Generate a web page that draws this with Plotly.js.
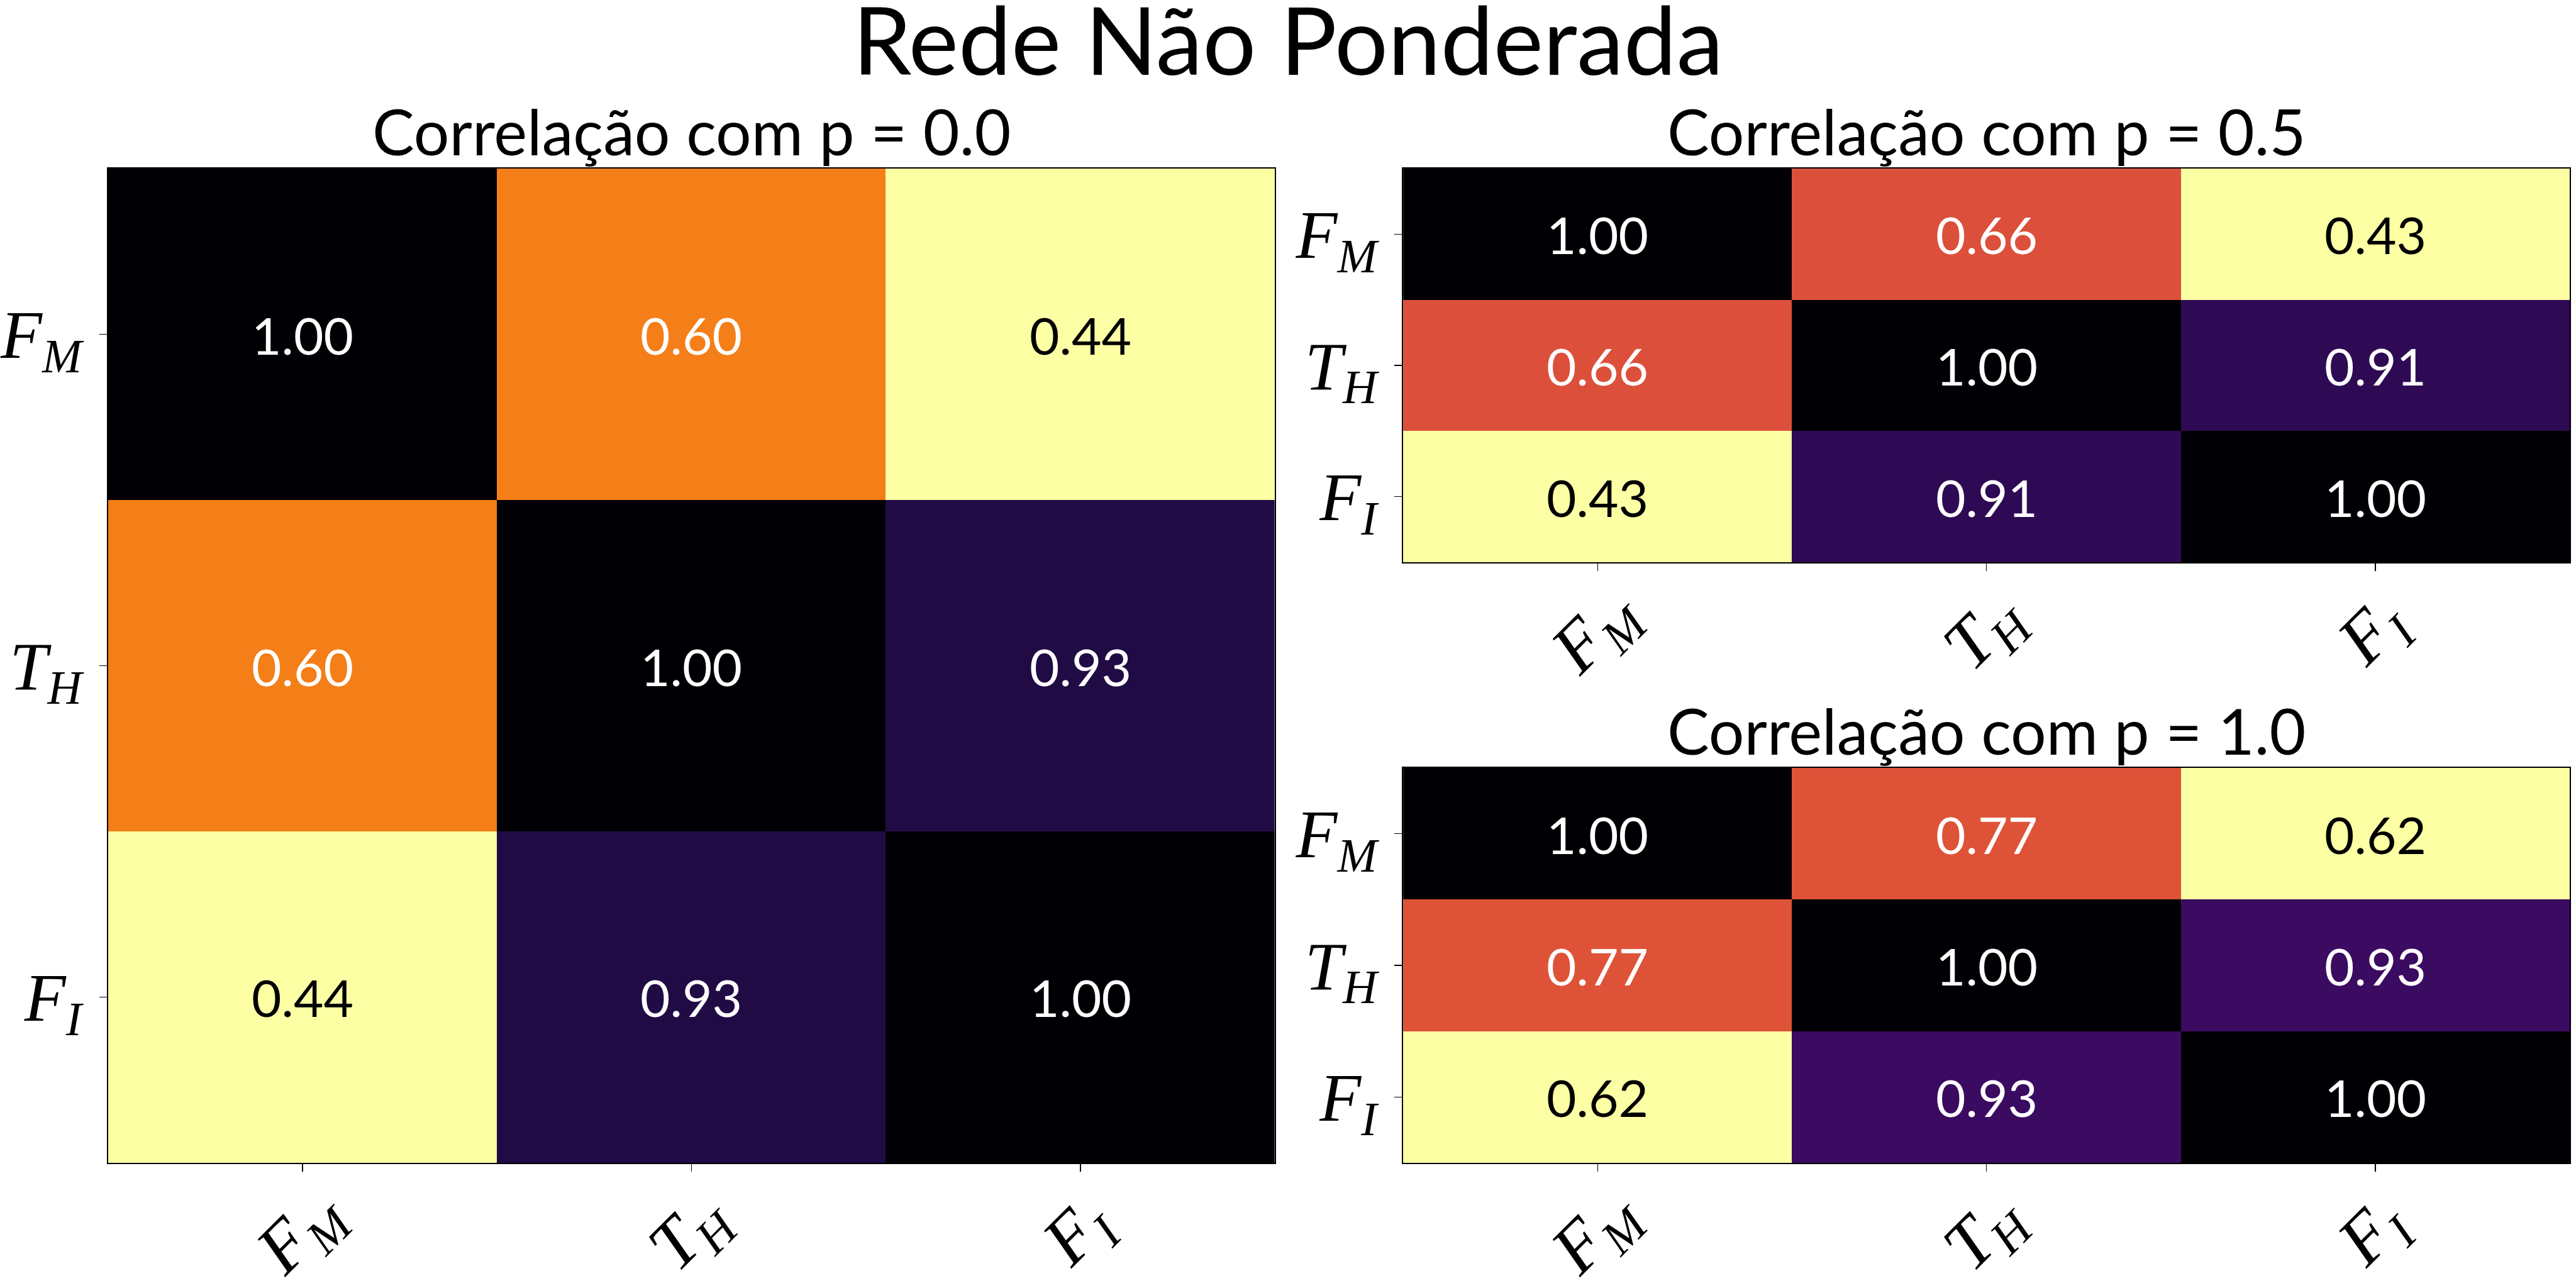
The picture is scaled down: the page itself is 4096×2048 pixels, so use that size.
<!DOCTYPE html>
<html>
<head>
<meta charset="utf-8">
<script src="https://cdn.plot.ly/plotly-3.0.1.min.js"></script>
<style>html,body{margin:0;padding:0;background:#fff}#chart{width:4096px;height:2048px}</style>
</head>
<body>
<div id="chart"></div>
<script>
// ---- data ----
const mainTitle = 'Rede Não Ponderada';
const categories = ['FM', 'TH', 'FI'];
const tickLabels = ['<i>F</i><sub><i>M</i></sub>', '<i>T</i><sub><i>H</i></sub>', '<i>F</i><sub><i>I</i></sub>'];
const subTitles = ['Correlação com p = 0.0', 'Correlação com p = 0.5', 'Correlação com p = 1.0'];
const corrP00 = [[1.00, 0.60, 0.44], [0.60, 1.00, 0.93], [0.44, 0.93, 1.00]];
const corrP05 = [[1.00, 0.66, 0.43], [0.66, 1.00, 0.91], [0.43, 0.91, 1.00]];
const corrP10 = [[1.00, 0.77, 0.62], [0.77, 1.00, 0.93], [0.62, 0.93, 1.00]];
// matplotlib "inferno" colormap (used reversed)
const infernoStops = ['#000004', '#160b39', '#420a68', '#6a176e', '#932667', '#bc3754',
                      '#dd513a', '#f37819', '#fca50a', '#f6d746', '#fcffa4'];

// ---- build ----
const inferno = infernoStops.map((c, i) => [i / (infernoStops.length - 1), c]);
const matrices = [corrP00, corrP05, corrP10];
const panels = [
  {xd: [0.0419, 0.4949], yd: [0.0972, 0.8691]},
  {xd: [0.5447, 0.9976], yd: [0.5635, 0.8691]},
  {xd: [0.5447, 0.9976], yd: [0.0972, 0.4038]}
];
const mathFont = 'Liberation Serif, DejaVu Serif, serif';
const sansFont = 'Lato, Open Sans, sans-serif';

const traces = [];
const annotations = [];
const layout = {
  width: 4096, height: 2048,
  margin: {l: 0, r: 0, t: 0, b: 0, pad: 0},
  paper_bgcolor: '#ffffff', plot_bgcolor: '#ffffff',
  showlegend: false,
  title: {text: mainTitle, font: {family: sansFont, size: 150, color: '#000'},
          x: 0.5, xanchor: 'center', xref: 'paper', y: 1 - 14 / 2048, yanchor: 'top', yref: 'container'},
  annotations: annotations
};

matrices.forEach((z, k) => {
  const ax = k === 0 ? '' : String(k + 1);
  const zmin = Math.min(...z.flat());
  const zmax = Math.max(...z.flat());
  traces.push({
    type: 'heatmap', z: z, x: categories, y: categories,
    xaxis: 'x' + ax, yaxis: 'y' + ax,
    colorscale: inferno, reversescale: true, zmin: zmin, zmax: zmax,
    showscale: false, hoverinfo: 'skip'
  });
  const common = {
    showline: true, mirror: true, linecolor: '#000', linewidth: 2,
    ticks: 'outside', ticklen: 12, tickwidth: 1.5, tickcolor: '#000',
    showgrid: false, zeroline: false, fixedrange: true,
    type: 'category', tickvals: categories, ticktext: tickLabels
  };
  layout['xaxis' + ax] = Object.assign({}, common, {
    domain: panels[k].xd, anchor: 'y' + ax, showticklabels: false
  });
  layout['yaxis' + ax] = Object.assign({}, common, {
    domain: panels[k].yd, anchor: 'x' + ax, autorange: 'reversed',
    tickfont: {family: mathFont, size: 108, color: '#000'}, ticklabelstandoff: 6
  });
  // subplot title
  annotations.push({
    text: subTitles[k], xref: 'paper', yref: 'paper',
    x: (panels[k].xd[0] + panels[k].xd[1]) / 2, y: panels[k].yd[1],
    xanchor: 'center', yanchor: 'bottom', yshift: -2, showarrow: false,
    font: {family: sansFont, size: 100, color: '#000'}
  });
  // rotated x tick labels centred under ticks
  categories.forEach((c, i) => {
    annotations.push({
      text: tickLabels[i], xref: 'x' + ax, yref: 'paper', x: c, y: panels[k].yd[0],
      xanchor: 'center', yanchor: 'middle', yshift: -113, textangle: -45, showarrow: false,
      font: {family: mathFont, size: 112, color: '#000'}
    });
  });
  // cell values
  z.forEach((row, r) => row.forEach((v, cidx) => {
    const t = (v - zmin) / (zmax - zmin);
    annotations.push({
      text: v.toFixed(2), xref: 'x' + ax, yref: 'y' + ax,
      x: categories[cidx], y: categories[r], showarrow: false,
      xanchor: 'center', yanchor: 'middle',
      font: {family: sansFont, size: 82, color: t > 0.15 ? '#ffffff' : '#000000'}
    });
  }));
});

Plotly.newPlot('chart', traces, layout, {staticPlot: true, displayModeBar: false});
</script>
</body>
</html>
